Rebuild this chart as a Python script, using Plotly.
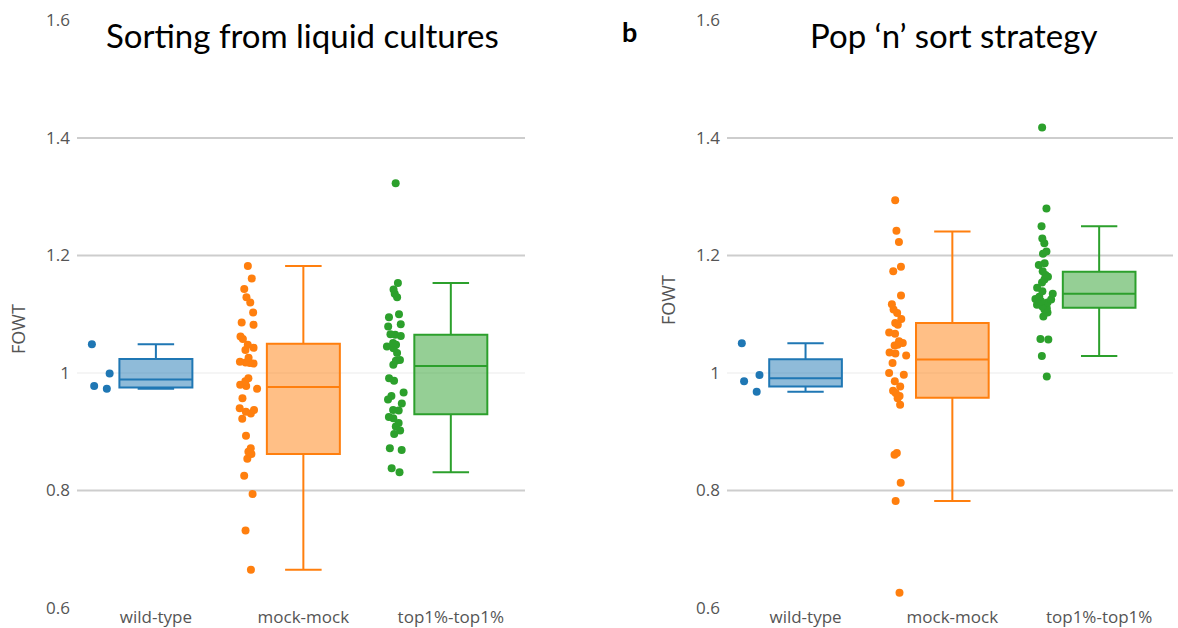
import plotly.graph_objects as go

# ---------------- data ----------------
CATEGORIES = ["wild-type", "mock-mock", "top1%-top1%"]
COLORS = ["#1f77b4", "#ff7f0e", "#2ca02c"]
FILLS = ["rgba(31,119,180,0.5)", "rgba(255,127,14,0.5)", "rgba(44,160,44,0.5)"]
Y_TICKS = [0.6, 0.8, 1.0, 1.2, 1.4, 1.6]
Y_TICKTEXT = ["0.6", "0.8", "1", "1.2", "1.4", "1.6"]

# Panel a: Sorting from liquid cultures
wt_a = [1.049, 0.999, 0.978, 0.973]
mm_a = [1.182, 1.161, 1.143, 1.129, 1.120, 1.103, 1.086, 1.082, 1.062, 1.058,
        1.048, 1.043, 1.039, 1.026, 1.019, 1.018, 1.017, 1.016, 0.991, 0.986,
        0.980, 0.978, 0.973, 0.957, 0.940, 0.937, 0.934, 0.931, 0.922, 0.893,
        0.872, 0.866, 0.862, 0.854, 0.825, 0.794, 0.732, 0.665]
tt_a = [1.323, 1.153, 1.142, 1.135, 1.129, 1.100, 1.095, 1.083, 1.079, 1.066,
        1.065, 1.063, 1.051, 1.048, 1.045, 1.042, 1.034, 1.022, 1.021, 1.014,
        0.991, 0.987, 0.967, 0.961, 0.955, 0.948, 0.937, 0.936, 0.925, 0.923,
        0.915, 0.909, 0.902, 0.896, 0.872, 0.869, 0.838, 0.831]
# box statistics [lowerfence, q1, median, q3, upperfence]
stats_a = [
    [0.973, 0.9755, 0.989, 1.024, 1.049],
    [0.665, 0.862, 0.976, 1.050, 1.182],
    [0.831, 0.930, 1.012, 1.065, 1.153],
]

# Panel b: Pop 'n' sort strategy
wt_b = [1.0505, 0.9966, 0.986, 0.968]
mm_b = [1.294, 1.242, 1.223, 1.181, 1.173, 1.132, 1.117, 1.108, 1.102, 1.092,
        1.085, 1.082, 1.069, 1.067, 1.054, 1.051, 1.048, 1.047, 1.035, 1.033,
        1.030, 1.017, 1.000, 0.997, 0.986, 0.977, 0.970, 0.966, 0.961, 0.957,
        0.946, 0.864, 0.861, 0.813, 0.782, 0.626]
tt_b = [1.418, 1.280, 1.250, 1.229, 1.221, 1.207, 1.203, 1.187, 1.184, 1.173,
        1.167, 1.164, 1.159, 1.154, 1.145, 1.139, 1.135, 1.130, 1.126, 1.125,
        1.122, 1.120, 1.116, 1.113, 1.110, 1.108, 1.103, 1.096, 1.058, 1.057,
        1.029, 0.994]
stats_b = [
    [0.968, 0.977, 0.991, 1.0235, 1.0505],
    [0.782, 0.958, 1.023, 1.085, 1.241],
    [1.029, 1.111, 1.135, 1.1725, 1.250],
]

GRID_VALUES = [0.8, 1.0, 1.2, 1.4]

# ---------------- figure ----------------
fig = go.Figure()

panels = [
    ("x", "y", [wt_a, mm_a, tt_a], stats_a),
    ("x2", "y2", [wt_b, mm_b, tt_b], stats_b),
]
for xa, ya, pts, stats in panels:
    for i, cat in enumerate(CATEGORIES):
        lf, q1, med, q3, uf = stats[i]
        fig.add_trace(go.Box(
            x=[cat], y=[pts[i]],
            q1=[q1], median=[med], q3=[q3], lowerfence=[lf], upperfence=[uf],
            name=cat, orientation="v",
            boxpoints="all", jitter=0.3, pointpos=-1.5,
            marker=dict(color=COLORS[i], size=8),
            line=dict(color=COLORS[i], width=2),
            fillcolor=FILLS[i],
            whiskerwidth=0.5,
            xaxis=xa, yaxis=ya, showlegend=False,
        ))

ydom = [1 - 608 / 628, 1 - 20.5 / 628]
xdom_a = [77 / 1178, 525 / 1178]
xdom_b = [727 / 1178, 1173 / 1178]

tick_font = dict(family="Open Sans", size=17, color="#555")
yaxis_common = dict(
    range=[0.6, 1.6], tickvals=Y_TICKS, ticktext=Y_TICKTEXT, ticks="",
    showgrid=False, zeroline=False, showline=False, domain=ydom,
    tickfont=tick_font, ticklabelstandoff=6, automargin=False,
)
xaxis_common = dict(showgrid=False, zeroline=False, showline=False,
                    range=[-0.535, 2.503], ticks="", automargin=False,
                    categoryorder="array", categoryarray=CATEGORIES,
                    tickfont=tick_font, ticklabelstandoff=-3)

fig.update_layout(
    width=1178, height=628,
    margin=dict(l=0, r=0, t=0, b=0),
    paper_bgcolor="white", plot_bgcolor="white",
    boxgap=0.505, boxgroupgap=0, boxmode="overlay",
    xaxis=dict(domain=xdom_a, anchor="y", **xaxis_common),
    yaxis=dict(anchor="x", **yaxis_common),
    xaxis2=dict(domain=xdom_b, anchor="y2", **xaxis_common),
    yaxis2=dict(anchor="x2", **yaxis_common),
)

# grid lines
shapes = []
for xr, yr in [("x domain", "y"), ("x2 domain", "y2")]:
    for g in GRID_VALUES:
        light = abs(g - 1.0) < 1e-9
        shapes.append(dict(type="line", xref=xr, yref=yr, x0=0, x1=1, y0=g, y1=g,
                           line=dict(color="#ebebeb" if light else "#cdcdcd",
                                     width=1 if light else 2),
                           layer="below"))
fig.update_layout(shapes=shapes)

title_font = dict(family="Lato", size=33, color="black")
fig.add_annotation(text="Sorting from liquid cultures", xref="paper", yref="paper",
                   x=302.5 / 1178, y=1 - 35 / 628, xanchor="center", yanchor="middle",
                   showarrow=False, font=title_font)
fig.add_annotation(text="Pop \u2018n\u2019 sort strategy", xref="paper", yref="paper",
                   x=953.5 / 1178, y=1 - 35 / 628, xanchor="center", yanchor="middle",
                   showarrow=False, font=title_font)
fig.add_annotation(text="<b>b</b>", xref="paper", yref="paper",
                   x=629 / 1178, y=1 - 31 / 628, xanchor="center", yanchor="middle",
                   showarrow=False, font=dict(family="Lato", size=27, color="black"))
for xp, yp in [(18, 329), (668, 300)]:
    fig.add_annotation(text="FOWT", xref="paper", yref="paper",
                       x=xp / 1178, y=1 - yp / 628, xanchor="center", yanchor="middle",
                       textangle=-90, showarrow=False,
                       font=dict(family="Open Sans", size=18, color="#555"))

fig.write_html("out.html")
